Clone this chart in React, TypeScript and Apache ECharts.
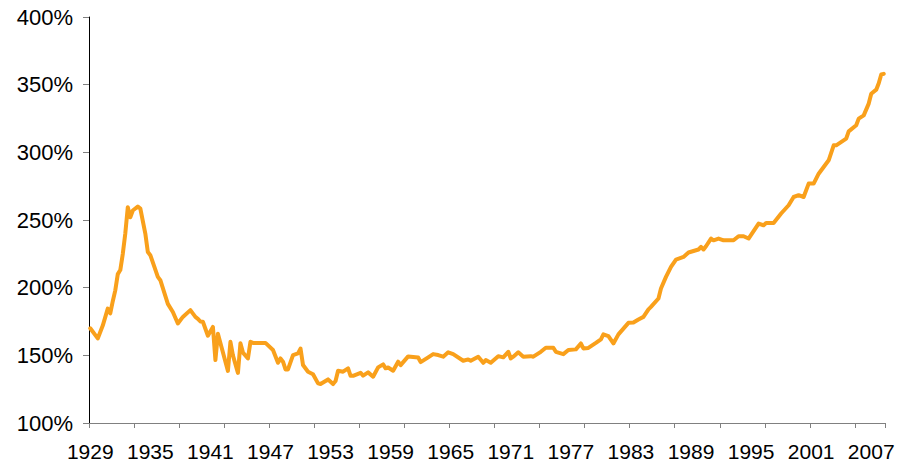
import React, { useEffect, useRef } from "react";
import * as echarts from "echarts";

// Quarterly category axis: 1929 Q1 ... 2008 Q2
const startYear = 1929;
const quarterCount = 318;
const categories: string[] = Array.from({ length: quarterCount }, (_, i) =>
  String(startYear + Math.floor(i / 4))
);

// Points: quarter index (from 1929 Q1) and value in %
const pointQuarter = [
  0, 3, 5, 7, 8, 9, 10, 11, 12, 13, 14, 15, 16, 17, 19, 20, 22, 23, 24, 27,
  28, 31, 33, 35, 37, 40, 42, 43, 44, 45, 47, 49, 50, 51, 55, 56, 57, 59, 60, 61,
  63, 64, 65, 70, 73, 75, 76, 77, 78, 79, 81, 83, 84, 85, 87, 89, 91, 92, 95, 97,
  98, 99, 101, 103, 104, 105, 108, 109, 111, 113, 115, 117, 118, 119, 121, 123, 124, 127, 131, 132,
  135, 137, 139, 141, 143, 145, 149, 151, 152, 155, 157, 158, 160, 163, 165, 167, 168, 169, 171, 173,
  176, 177, 180, 182, 185, 186, 189, 191, 194, 196, 197, 199, 202, 204, 205, 207, 209, 211, 215, 217,
  219, 221, 223, 224, 227, 228, 230, 232, 234, 237, 239, 243, 244, 245, 246, 248, 249, 251, 253, 257,
  259, 261, 263, 267, 269, 270, 273, 276, 279, 281, 283, 285, 287, 289, 291, 293, 295, 297, 298, 302,
  303, 306, 307, 309, 311, 312, 314, 315, 316, 317,
];
const pointValue = [
  170, 162.5, 172, 184.5, 181, 190, 198, 210, 213, 225, 240, 259.5, 252, 257, 260, 258.5, 240, 226.4, 224, 208,
  205.5, 188, 182, 173.5, 178.4, 183.4, 178.4, 177, 175, 174.8, 164.5, 171, 146.5, 166, 138.5, 160, 150, 137, 159, 152,
  147.7, 160, 159.2, 159.2, 154, 144.5, 147.7, 145.3, 139.6, 139.6, 150.2, 151.4, 155, 142.8, 137.9, 136, 129.3, 128.8, 132.2, 128.8,
  131, 138.6, 137.9, 140.4, 134.9, 134.9, 137.1, 135, 137.4, 134.2, 141.1, 143.3, 140.4, 141, 138.6, 145.3, 142.8, 149.2, 148.4, 145,
  148.5, 150.9, 150.2, 149, 152.2, 150.9, 146, 147, 146, 149, 144.5, 146.5, 144.5, 149.4, 148.5, 152.6, 147.7, 149, 152.2, 149,
  149.4, 149, 152.6, 155.6, 155.6, 152.6, 150.9, 153.9, 154.4, 158.8, 155.1, 155.5, 159.2, 161.8, 165.5, 164.2, 158.8, 165.5, 174, 174.3,
  176.5, 178.4, 184, 185.8, 192, 199.4, 208, 215.4, 220.8, 222.7, 226, 228.2, 230.1, 228.2, 230.6, 236.3, 235, 236.3, 235, 235,
  238, 238, 236.3, 247.4, 246.1, 247.8, 247.8, 254.8, 260.9, 267, 268.3, 267, 276.9, 276.9, 284.2, 289.2, 294.1, 305.2, 305.2, 310.1,
  315.5, 320, 324.9, 327.3, 336, 343.3, 346.3, 351, 357.5, 358,
];

const yMin = 100;
const yMax = 400;
const yStep = 50;

const lineColor = "#F9A01B";
const fontFamily = "'Liberation Sans', Arial, sans-serif";

export default function App() {
  const ref = useRef<HTMLDivElement>(null);

  useEffect(() => {
    if (!ref.current) return;
    const chart = echarts.init(ref.current, undefined, { renderer: "svg" });
    const data = pointQuarter.map((q, i) => [q, pointValue[i]]);
    chart.setOption({
      animation: false,
      backgroundColor: "#ffffff",
      grid: { left: 89, right: 21, top: 17, bottom: 44, containLabel: false },
      xAxis: {
        type: "category",
        data: categories,
        boundaryGap: true,
        axisLine: { show: true, lineStyle: { color: "#808080", width: 1 } },
        axisTick: { show: true, interval: 17, length: 5, lineStyle: { color: "#808080" } },
        axisLabel: {
          interval: 23,
          margin: 18,
          color: "#000",
          fontSize: 21,
          fontFamily,
        },
        splitLine: { show: false },
      },
      yAxis: {
        type: "value",
        min: yMin,
        max: yMax,
        interval: yStep,
        axisLine: { show: true, lineStyle: { color: "#000", width: 1 } },
        axisTick: { show: true, length: 6, lineStyle: { color: "#808080" } },
        axisLabel: {
          formatter: "{value}%",
          margin: 16,
          color: "#000",
          fontSize: 22,
          fontFamily,
        },
        splitLine: { show: false },
      },
      series: [
        {
          type: "line",
          data,
          showSymbol: false,
          symbol: "none",
          lineStyle: { color: lineColor, width: 4, join: "round", cap: "round" },
          itemStyle: { color: lineColor },
        },
      ],
    });
    return () => chart.dispose();
  }, []);

  return (
    <div
      ref={ref}
      style={{ position: "fixed", left: 0, top: 0, width: 906, height: 467, background: "#fff" }}
    />
  );
}
